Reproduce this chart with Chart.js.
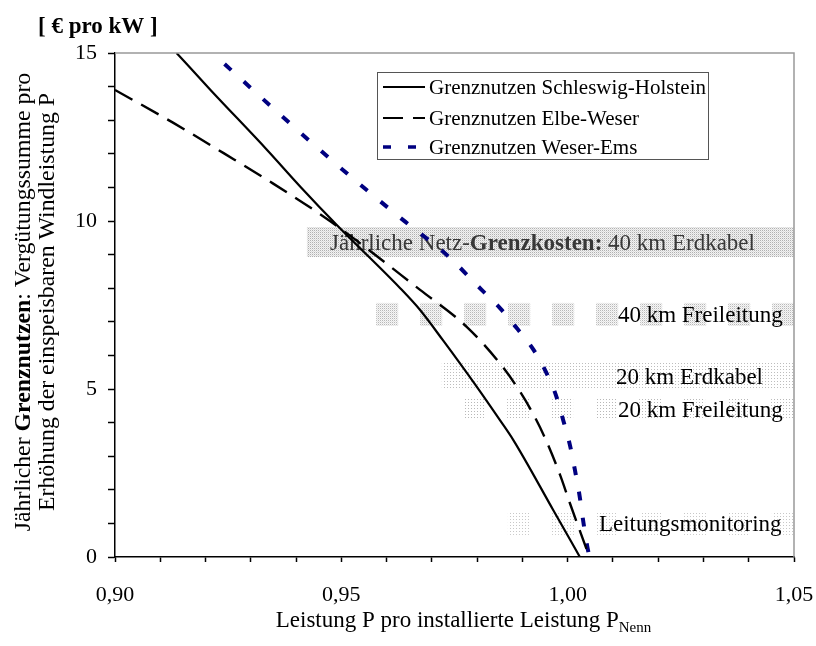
<!DOCTYPE html>
<html><head><meta charset="utf-8">
<script src="https://cdn.jsdelivr.net/npm/chart.js@4"></script>
<style>html,body{margin:0;padding:0;background:#fff}#wrap{width:816px;height:646px;position:relative}</style>
</head><body><div id="wrap"><canvas id="c"></canvas></div>
<script>
// ---------- data ----------
const seriesNames = ['Grenznutzen Schleswig-Holstein', 'Grenznutzen Elbe-Weser', 'Grenznutzen Weser-Ems'];
const shX = [0.9136, 0.9211, 0.9337, 0.9411, 0.9490, 0.9630, 0.9674, 0.9724, 0.9799, 0.9850, 0.9880, 0.9968, 1.0027];
const shY = [15.0, 13.9, 12.1, 11.0, 9.88, 8.0, 7.35, 6.46, 5.07, 4.08, 3.48, 1.4, 0];
const ewX = [0.900, 0.9129, 0.924, 0.9337, 0.9478, 0.9674, 0.9777, 0.9851, 0.9891, 0.9928, 0.9953, 0.9983, 1.0005, 1.0048];
const ewY = [13.9, 12.92, 12.02, 11.22, 9.97, 7.95, 6.85, 5.75, 5.0, 4.15, 3.45, 2.45, 1.6, 0];
const weX = [0.9242, 0.9368, 0.9470, 0.9556, 0.9641, 0.9733, 0.9810, 0.9851, 0.9887, 0.9924, 0.9952, 0.9974, 0.9990, 1.0005, 1.0016, 1.0026, 1.0034, 1.0042, 1.0048];
const weY = [14.67, 13.13, 11.91, 10.92, 9.98, 8.99, 7.95, 7.40, 6.82, 6.18, 5.51, 4.82, 4.08, 3.33, 2.59, 1.85, 1.10, 0.41, 0];

const costLabels = ['Jährliche Netz-Grenzkosten: 40 km Erdkabel', '40 km Freileitung', '20 km Erdkabel', '20 km Freileitung', 'Leitungsmonitoring'];
const costBold = ['Grenzkosten:', '', '', '', ''];
const costValues = [9.375, 7.22, 5.39, 4.42, 1.0];
const costFromX = [0.9424, 0.9577, 0.9722, 0.9769, 0.9868];
const costToX = [1.05, 1.05, 1.05, 1.05, 1.05];
const costLabelX = [0.9475, 1.0111, 1.0107, 1.0111, 1.0069];

const xTickLabels = ['0,90', '0,95', '1,00', '1,05'];
const yTickLabels = ['0', '5', '10', '15'];
const yTitleLines = ['Jährlicher Grenznutzen: Vergütungssumme pro', 'Erhöhung der einspeisbaren Windleistung P'];
const yTitleBold = 'Grenznutzen';
const unitLabel = '[ € pro kW ]';
const xTitleMain = 'Leistung P pro installierte Leistung P';
const xTitleSub = 'Nenn';

// ---------- styles ----------
const FAM = '"Liberation Serif", "Times New Roman", serif';
function makePattern(n, cells) {
  const c = document.createElement('canvas'); c.width = n; c.height = n;
  const g = c.getContext('2d');
  for (let i = 0; i < n * n; i++) { g.fillStyle = cells[i]; g.fillRect(i % n, Math.floor(i / n), 1, 1); }
  return g.createPattern(c, 'repeat');
}
const W = '#ffffff';
const bandStyles = [
  { w: 30, dash: [], pat: makePattern(2, ['#b0b0b0', '#f2f2f2', '#f2f2f2', '#dcdcdc']) },
  { w: 23, dash: [22, 22], pat: makePattern(2, ['#b8b8b8', '#f6f6f6', '#f6f6f6', '#e2e2e2']) },
  { w: 26, dash: [], pat: makePattern(3, ['#bdbdbd', W, W, W, W, W, W, W, W]) },
  { w: 23, dash: [22, 22], pat: makePattern(3, ['#b8b8b8', W, W, W, W, W, W, W, W]) },
  { w: 23, dash: [22, 22], pat: makePattern(3, ['#c8c8c8', W, W, W, W, W, W, W, W]) }
];
const lineStyles = [
  { color: '#000000', width: 2.2, dash: [] },
  { color: '#000000', width: 2.4, dash: [20, 10] },
  { color: '#000080', width: 4, dash: [9, 17] }
];

// ---------- datasets ----------
const toPts = (xs, ys) => xs.map((x, i) => ({ x: x, y: ys[i] }));
const datasets = [];
[[shX, shY], [ewX, ewY], [weX, weY]].forEach((s, i) => {
  datasets.push({
    label: seriesNames[i], data: toPts(s[0], s[1]),
    borderColor: lineStyles[i].color, borderWidth: lineStyles[i].width, borderDash: lineStyles[i].dash,
    pointRadius: 0, cubicInterpolationMode: 'monotone', fill: false, order: 0
  });
});
costValues.forEach((v, i) => {
  datasets.push({
    label: costLabels[i], bandIndex: i,
    data: [{ x: costFromX[i], y: v }, { x: costToX[i], y: v }],
    borderColor: bandStyles[i].pat, borderWidth: bandStyles[i].w, borderDash: bandStyles[i].dash,
    borderCapStyle: 'butt', pointRadius: 0, tension: 0, fill: false, order: 10 + i
  });
});

function drawRich(ctx, parts, x, y, align, size) {
  let total = 0;
  parts.forEach(p => { ctx.font = (p[1] ? 'bold ' : '') + size + 'px ' + FAM; total += ctx.measureText(p[0]).width; });
  let cx = align === 'center' ? x - total / 2 : x;
  ctx.textAlign = 'left';
  parts.forEach(p => { ctx.font = (p[1] ? 'bold ' : '') + size + 'px ' + FAM; ctx.fillText(p[0], cx, y); cx += ctx.measureText(p[0]).width; });
}
function splitBold(text, bold) {
  if (!bold) return [[text, false]];
  const k = text.indexOf(bold);
  return [[text.slice(0, k), false], [bold, true], [text.slice(k + bold.length), false]];
}

const deco = {
  id: 'deco',
  afterDatasetDraw(chart, args) {
    const ds = chart.data.datasets[args.index];
    if (ds.bandIndex === undefined) return;
    const i = ds.bandIndex, ctx = chart.ctx;
    ctx.save();
    ctx.textBaseline = 'middle';
    ctx.fillStyle = i === 0 ? '#383838' : '#000000';
    drawRich(ctx, splitBold(costLabels[i], costBold[i]), chart.scales.x.getPixelForValue(costLabelX[i]), chart.scales.y.getPixelForValue(costValues[i]) + 2, 'left', 23);
    ctx.restore();
  },
  afterDraw(chart) {
    const ctx = chart.ctx, ca = chart.chartArea;
    ctx.save();
    // top / right frame
    ctx.strokeStyle = '#999999'; ctx.lineWidth = 1.5;
    ctx.beginPath(); ctx.moveTo(ca.left, ca.top); ctx.lineTo(ca.right, ca.top); ctx.lineTo(ca.right, ca.bottom); ctx.stroke();
    // unit label
    ctx.fillStyle = '#000'; ctx.textBaseline = 'alphabetic';
    drawRich(ctx, [[unitLabel, true]], ca.left - 77, ca.top - 20, 'left', 23);
    // y title
    const cy = (ca.top + ca.bottom) / 2 - 3;
    ctx.save(); ctx.translate(ca.left - 85, cy); ctx.rotate(-Math.PI / 2);
    drawRich(ctx, splitBold(yTitleLines[0], yTitleBold), 0, 0, 'center', 23.8);
    ctx.restore();
    ctx.save(); ctx.translate(ca.left - 61, cy); ctx.rotate(-Math.PI / 2);
    drawRich(ctx, [[yTitleLines[1], false]], 0, 0, 'center', 23.8);
    ctx.restore();
    // x title with subscript
    ctx.font = '23px ' + FAM; const wMain = ctx.measureText(xTitleMain).width;
    ctx.font = '15px ' + FAM; const wSub = ctx.measureText(xTitleSub).width;
    const xs = (ca.left + ca.right) / 2 - (wMain + wSub) / 2 + 9;
    const by = ca.bottom + 70;
    ctx.font = '23px ' + FAM; ctx.textAlign = 'left'; ctx.fillText(xTitleMain, xs, by);
    ctx.font = '15px ' + FAM; ctx.fillText(xTitleSub, xs + wMain, by + 5);
    // legend
    const lx = ca.left + 262, ly = ca.top + 19, lw = 331, lh = 87;
    ctx.fillStyle = '#fff'; ctx.fillRect(lx, ly, lw, lh);
    ctx.strokeStyle = '#555'; ctx.lineWidth = 1; ctx.setLineDash([]);
    ctx.strokeRect(lx + 0.5, ly + 0.5, lw, lh);
    const rows = [15, 46, 75];
    for (let i = 0; i < 3; i++) {
      const ry = ly + rows[i];
      ctx.strokeStyle = lineStyles[i].color; ctx.lineWidth = i === 2 ? 3.5 : 2.2;
      ctx.setLineDash(i === 2 ? [8, 17] : lineStyles[i].dash); ctx.lineCap = 'butt';
      ctx.beginPath(); ctx.moveTo(lx + 6, ry); ctx.lineTo(lx + 48, ry); ctx.stroke();
      ctx.setLineDash([]);
      ctx.fillStyle = '#000'; ctx.textBaseline = 'middle';
      drawRich(ctx, [[seriesNames[i], false]], lx + 52, ry + 1, 'left', 21);
    }
    ctx.restore();
  }
};

new Chart(document.getElementById('c'), {
  type: 'line',
  data: { datasets: datasets },
  plugins: [deco],
  options: {
    responsive: true, maintainAspectRatio: false, animation: false, devicePixelRatio: 1, events: [],
    layout: { padding: { top: 53, right: 22, bottom: 0, left: 0 } },
    plugins: { legend: { display: false }, tooltip: { enabled: false } },
    scales: {
      x: {
        type: 'linear', min: 0.90, max: 1.05,
        afterFit: s => { s.height = 89; s.paddingRight = 0; s.paddingLeft = 0; },
        ticks: {
          stepSize: 0.01, autoSkip: false, maxRotation: 0, padding: 20, color: '#000',
          font: { family: FAM, size: 22 },
          callback: v => { const k = Math.round((v - 0.90) * 100); return k % 5 === 0 ? xTickLabels[k / 5] : ''; }
        },
        grid: { drawOnChartArea: false, drawTicks: true, tickLength: 5, tickColor: '#000', tickWidth: 1.5 },
        border: { color: '#000', width: 1.5 }
      },
      y: {
        type: 'linear', min: 0, max: 15,
        afterFit: s => { s.width = 115; s.paddingTop = 0; s.paddingBottom = 0; },
        ticks: {
          stepSize: 1, autoSkip: false, padding: 11, color: '#000',
          font: { family: FAM, size: 22 },
          callback: v => (Math.round(v) % 5 === 0 ? yTickLabels[Math.round(v) / 5] : '')
        },
        grid: { drawOnChartArea: false, drawTicks: true, tickLength: 7, tickColor: '#000', tickWidth: 1.5 },
        border: { color: '#000', width: 1.5 }
      }
    }
  }
});
</script></body></html>
